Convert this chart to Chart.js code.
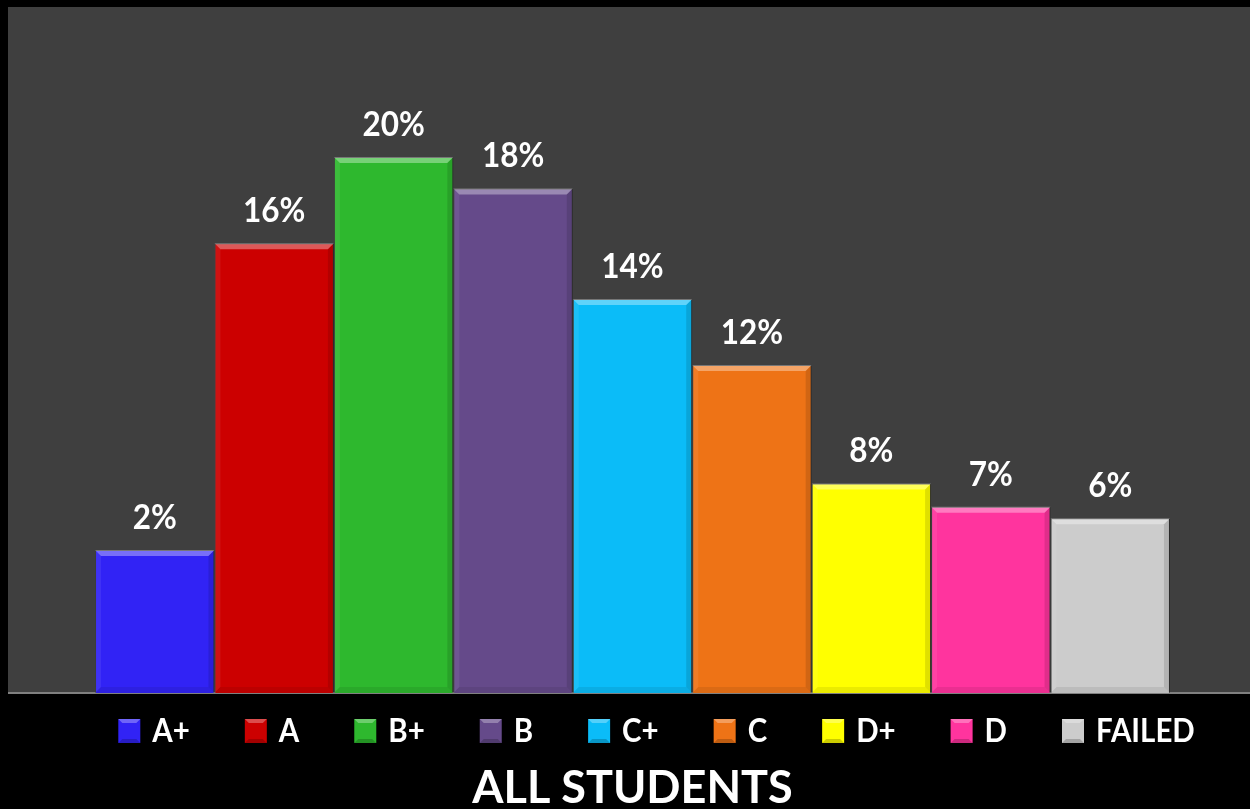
<!DOCTYPE html>
<html>
<head>
<meta charset="utf-8">
<script src="https://cdn.jsdelivr.net/npm/chart.js@4/dist/chart.umd.min.js"></script>
<style>
  html, body { margin: 0; padding: 0; background: #000; }
  #wrap { width: 1250px; height: 809px; }
</style>
</head>
<body>
<div id="wrap"><canvas id="c" width="1250" height="809"></canvas></div>
<script>
// ---- data ----
const grades = ['A+', 'A', 'B+', 'B', 'C+', 'C', 'D+', 'D', 'FAILED'];
const barHeights = [5.34, 16.78, 20.0, 18.83, 14.7, 12.24, 7.82, 6.95, 6.52];
const valueLabels = ['2%', '16%', '20%', '18%', '14%', '12%', '8%', '7%', '6%'];
const barColors = ['#3123F5', '#CC0000', '#2EB82E', '#654A8A', '#0BBCF8', '#EE7316', '#FFFF00', '#FF349E', '#CCCCCC'];
const groupLabel = ['ALL STUDENTS'];

const datasets = grades.map((g, i) => ({
  label: g,
  data: [barHeights[i]],
  backgroundColor: barColors[i],
  borderColor: 'rgba(0,0,0,0.25)',
  borderWidth: 1,
  barPercentage: 1.0,
  categoryPercentage: 0.8704
}));

const bgPlugin = {
  id: 'bg',
  beforeDraw(chart) {
    const {ctx, chartArea} = chart;
    ctx.save();
    ctx.fillStyle = '#000';
    ctx.fillRect(0, 0, chart.width, chart.height);
    ctx.fillStyle = '#3F3F3F';
    ctx.fillRect(8, chartArea.top, chart.width - 8, chartArea.bottom - chartArea.top);
    ctx.fillStyle = '#808080';
    ctx.fillRect(8, chartArea.bottom - 1, chart.width - 8, 2);
    ctx.restore();
  }
};

const bevelPlugin = {
  id: 'bevel',
  afterDatasetsDraw(chart) {
    const {ctx} = chart;
    chart.data.datasets.forEach((ds, i) => {
      const meta = chart.getDatasetMeta(i);
      meta.data.forEach((bar) => {
        const x0 = bar.x - bar.width / 2, x1 = bar.x + bar.width / 2;
        const y0 = bar.y, y1 = bar.base;
        const b = 6;
        ctx.save();
        // top bevel
        ctx.fillStyle = 'rgba(255,255,255,0.35)';
        ctx.beginPath();
        ctx.moveTo(x0, y0); ctx.lineTo(x1, y0); ctx.lineTo(x1 - b, y0 + b); ctx.lineTo(x0 + b, y0 + b);
        ctx.closePath(); ctx.fill();
        // left bevel
        ctx.fillStyle = 'rgba(255,255,255,0.07)';
        ctx.beginPath();
        ctx.moveTo(x0, y0); ctx.lineTo(x0 + b, y0 + b); ctx.lineTo(x0 + b, y1 - b); ctx.lineTo(x0, y1);
        ctx.closePath(); ctx.fill();
        // right bevel
        ctx.fillStyle = 'rgba(0,0,0,0.12)';
        ctx.beginPath();
        ctx.moveTo(x1, y0); ctx.lineTo(x1 - b, y0 + b); ctx.lineTo(x1 - b, y1 - b); ctx.lineTo(x1, y1);
        ctx.closePath(); ctx.fill();
        // bottom bevel
        ctx.fillStyle = 'rgba(0,0,0,0.08)';
        ctx.beginPath();
        ctx.moveTo(x0, y1); ctx.lineTo(x0 + b, y1 - b); ctx.lineTo(x1 - b, y1 - b); ctx.lineTo(x1, y1);
        ctx.closePath(); ctx.fill();
        ctx.restore();
        // value label
        ctx.save();
        ctx.fillStyle = '#FFFFFF';
        ctx.font = 'bold 35px Lato';
        ctx.textAlign = 'center';
        ctx.textBaseline = 'alphabetic';
        ctx.translate(bar.x, y0 - 21);
        ctx.scale(0.9, 1);
        ctx.fillText(valueLabels[i], 0, 0);
        ctx.restore();
      });
    });
  }
};

const legendPlugin = {
  id: 'customLegend',
  afterDraw(chart) {
    const {ctx, chartArea} = chart;
    const boxW = 22, boxH = 24, textGap = 12, itemGap = 55;
    ctx.save();
    ctx.font = 'bold 32px Lato';
    const sx = 0.92;
    const widths = chart.data.datasets.map(ds => boxW + textGap + ctx.measureText(ds.label).width * sx);
    const total = widths.reduce((a, b) => a + b, 0) + itemGap * (widths.length - 1);
    const cx = (chartArea.left + chartArea.right) / 2 + 24;
    let x = cx - total / 2;
    const yMid = chartArea.bottom + 38;
    chart.data.datasets.forEach((ds, i) => {
      ctx.fillStyle = ds.backgroundColor;
      ctx.fillRect(x, yMid - boxH / 2, boxW, boxH);
      ctx.fillStyle = 'rgba(255,255,255,0.3)';
      ctx.beginPath();
      ctx.moveTo(x, yMid - boxH / 2); ctx.lineTo(x + boxW, yMid - boxH / 2);
      ctx.lineTo(x + boxW - 4, yMid - boxH / 2 + 4); ctx.lineTo(x + 4, yMid - boxH / 2 + 4);
      ctx.closePath(); ctx.fill();
      ctx.fillStyle = 'rgba(0,0,0,0.2)';
      ctx.beginPath();
      ctx.moveTo(x, yMid + boxH / 2); ctx.lineTo(x + boxW, yMid + boxH / 2);
      ctx.lineTo(x + boxW - 4, yMid + boxH / 2 - 4); ctx.lineTo(x + 4, yMid + boxH / 2 - 4);
      ctx.closePath(); ctx.fill();
      ctx.fillStyle = '#FFFFFF';
      ctx.textBaseline = 'middle';
      ctx.textAlign = 'left';
      ctx.save();
      ctx.translate(x + boxW + textGap, yMid + 1);
      ctx.scale(sx, 1);
      ctx.fillText(ds.label, 0, 0);
      ctx.restore();
      x += widths[i] + itemGap;
    });
    ctx.restore();
  }
};

new Chart(document.getElementById('c'), {
  type: 'bar',
  data: { labels: groupLabel, datasets },
  options: {
    responsive: false,
    animation: false,
    layout: { padding: { top: 7, left: 15, right: 0, bottom: 0 } },
    scales: {
      x: {
        display: true,
        grid: { display: false, drawTicks: false },
        ticks: { display: false },
        border: { display: false }
      },
      y: {
        display: false,
        min: 0,
        max: 25.6
      }
    },
    plugins: {
      legend: { display: false },
      tooltip: { enabled: false },
      title: {
        display: true,
        text: groupLabel[0],
        position: 'bottom',
        color: '#FFFFFF',
        font: { family: 'Lato', size: 45, weight: 'bold', lineHeight: 0.9 },
        padding: { top: 75.5, bottom: 0 }
      }
    }
  },
  plugins: [bgPlugin, bevelPlugin, legendPlugin]
});
</script>
</body>
</html>
